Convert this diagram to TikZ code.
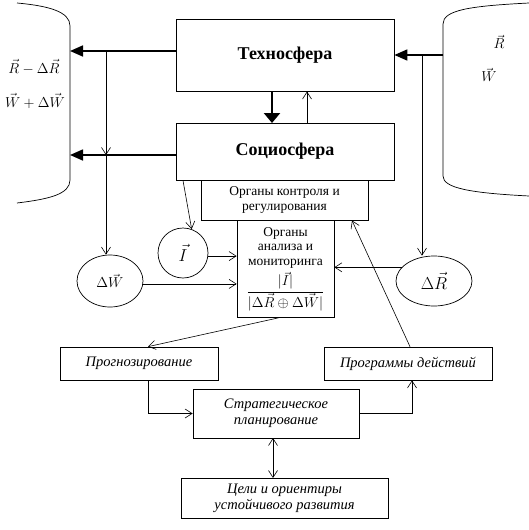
\documentclass[tikz,border=0pt]{standalone}
\usepackage{fontspec}
\setmainfont{Liberation Serif}
\usetikzlibrary{arrows.meta,calc,shapes.geometric}
\tikzset{
  boxnode/.style={draw,line width=0.7pt,rectangle,inner sep=2pt,align=center},
  open/.style={-{Straight Barb[length=7pt,width=9pt]},line width=0.6pt},
  bigarr/.style={-{Triangle[length=13pt,width=11pt]},line width=1.6pt},
  thin/.style={line width=0.7pt},
  ital/.style={font=\fontsize{14.5}{16}\selectfont\itshape},
  reg/.style={font=\fontsize{13.5}{14.5}\selectfont},
  big/.style={font=\fontsize{18}{20}\selectfont\bfseries},
  mathlbl/.style={font=\fontsize{14}{16}\selectfont},
}
\begin{document}
\begin{tikzpicture}[x=1pt,y=-1pt]
\useasboundingbox (0,0) rectangle (529,530);
% brackets
\draw[thin] (17,3) .. controls (50,6) and (70,12) .. (70,26) -- (70,180) .. controls (70,194) and (50,199) .. (17,203);
\draw[thin] (529,3) .. controls (470,6) and (443,10) .. (443,24) -- (443,176) .. controls (443,188) and (470,193) .. (529,196);
\node[mathlbl] (lt1) at (34,67) {$\vec R-\Delta\vec R$};
\node[mathlbl] (lt2) at (35,101) {$\vec W+\Delta\vec W$};
\node[mathlbl] (rt1) at (499,42) {$\vec R$};
\node[mathlbl] (rt2) at (489,75) {$\vec W$};
% boxes
\node[boxnode,big,minimum width=218,minimum height=72] (techno) at (285,55) {Техносфера};
\node[boxnode,big,minimum width=218,minimum height=57] (socio) at (285,151.5) {Социосфера};
\node[boxnode,reg,minimum width=167,minimum height=40] (control) at (284.5,200) {Органы контроля и\\регулирования};
\node[boxnode,minimum width=97,minimum height=97,inner sep=1pt,font=\fontsize{13.5}{14.5}\selectfont] (analysis) at (285.5,269) {Органы\\анализа и\\мониторинга\\[3pt]$\displaystyle\frac{\bigl|\vec I\bigr|}{\bigl|\Delta\vec R\oplus\Delta\vec W\bigr|}$};
\node[draw,thin,circle,minimum size=50,inner sep=0pt,font=\fontsize{19}{20}\selectfont] (Icirc) at (183,253) {$\vec I$};
\node[draw,thin,ellipse,minimum width=66,minimum height=52,inner sep=0pt,font=\fontsize{15}{18}\selectfont] (dW) at (110,281) {$\Delta\vec W$};
\node[draw,thin,ellipse,minimum width=76,minimum height=50,inner sep=0pt,font=\fontsize{16}{18}\selectfont] (dR) at (434,281) {$\Delta\vec R$};
\node[boxnode,ital,minimum width=158,minimum height=33] (prog) at (139,363.5) {Прогнозирование};
\node[boxnode,ital,minimum width=168,minimum height=33] (progr) at (408,363.5) {Программы действий};
\node[boxnode,ital,minimum width=166,minimum height=49] (strat) at (276,413.5) {Стратегическое\\планирование};
\node[boxnode,ital,minimum width=207,minimum height=40] (goals) at (284.5,498) {Цели и ориентиры\\устойчивого развития};
% coordinates
\coordinate (la1) at (70,51);
\coordinate (la2) at (70,155);
\coordinate (ra1) at (443,55);
\coordinate (vl) at (106,51);
\coordinate (vlm) at (106,155);
\coordinate (vr) at (422,55);
% thick arrows
\draw[bigarr] (techno.west |- la1) -- (la1);
\draw[bigarr] (socio.west |- la2) -- (la2);
\draw[bigarr] (ra1) -- (techno.east |- ra1);
\draw[-{Triangle[length=10pt,width=16pt]},line width=2.4pt] (272,91) -- (272,123);
\draw[open] (307,123) -- (307,91.5);
% thin lines
\draw[open] (vl) -- (vlm);
\draw[open] (vlm) -- (vl |- dW.north);
\draw[open] (vr) -- (vr |- dR.north);
\draw[open] (183,180.5) -- (Icirc.70);
\draw[open] (Icirc.-7) -- (Icirc.-7 -| analysis.west);
\draw[open] (dW.-5) -- (dW.-5 -| analysis.west);
\draw[open] (dR.157) -- (dR.157 -| analysis.east);
\draw[open] ($(analysis.south)+(-7,0)$) -- ($(prog.north)+(9,0)$);
\draw[open] ($(progr.north)+(2,0)$) -- (352,220.5);
\draw[open] ($(prog.south)+(9,0)$) |- (strat.west);
\draw[open] (strat.east) -| ($(progr.south)+(4,0)$);
\draw[{Straight Barb[length=7pt,width=9pt]}-{Straight Barb[length=7pt,width=9pt]},line width=0.6pt] (273,438) -- (273,478);
\end{tikzpicture}
\end{document}
